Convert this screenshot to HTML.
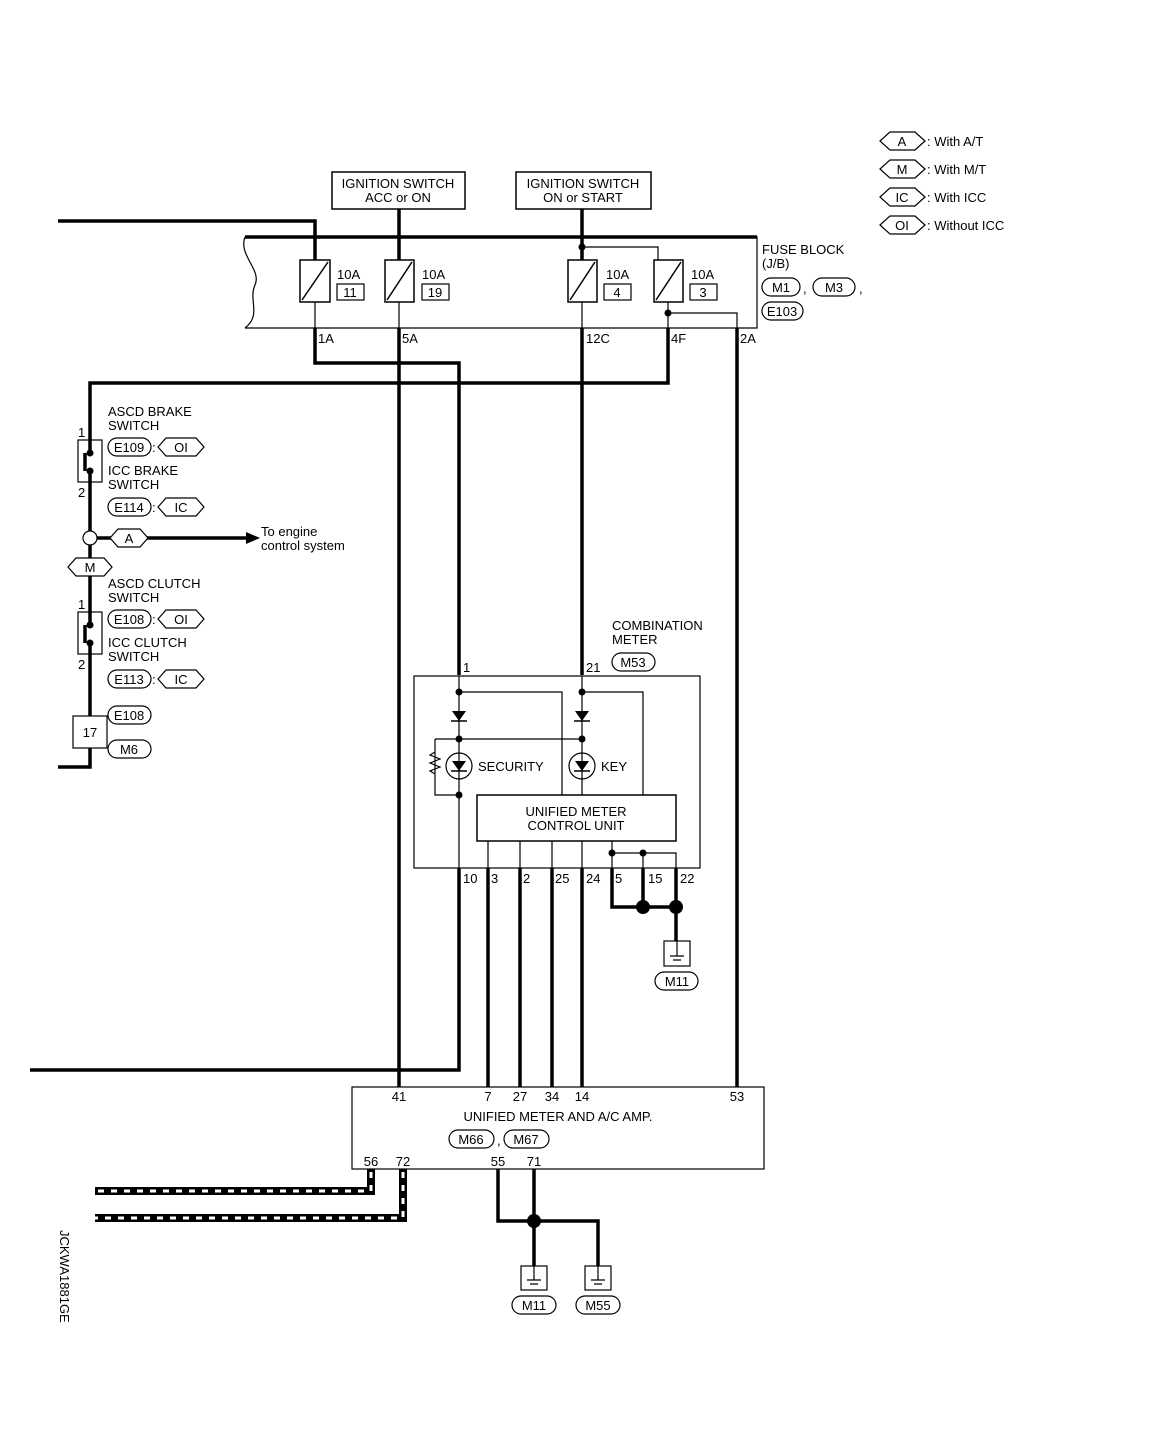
<!DOCTYPE html>
<html><head><meta charset="utf-8"><style>
body{margin:0;background:#fff}
svg{display:block}
text{font-family:"Liberation Sans",sans-serif;font-size:13px;fill:#000}
</style></head><body>
<svg width="1154" height="1456" viewBox="0 0 1154 1456" xmlns="http://www.w3.org/2000/svg">
<g fill="none" stroke="#000">
<rect x="332" y="172" width="133" height="37" stroke-width="1.5"/>
<rect x="516" y="172" width="135" height="37" stroke-width="1.5"/>
<path d="M245 237H757V328H245" stroke-width="1.2"/>
<path d="M245 237 C238 255,262 270,255 285 C248 300,262 315,245 328" stroke-width="1.2"/>
<path d="M245 237H757" stroke-width="3.5"/>
<g stroke-width="3.5">
<path d="M58 221H315V260"/>
<path d="M399 209V260"/>
<path d="M582 209V260"/>
<path d="M315 328V363H459V675"/>
<path d="M399 328V1087"/>
<path d="M582 328V675"/>
<path d="M668 328V383H90V716M90 748V767H58"/>
<path d="M737 328V1087"/>
<path d="M459 868V1070H30"/>
<path d="M488 868V1087M520 868V1087M552 868V1087M582 868V1087"/>
<path d="M612 868V907H676M676 868V941M643 868V907"/>
<path d="M498 1169V1221H598V1266M534 1169V1266"/>
<path d="M90 538H250"/>
</g>
<g stroke-width="1.2">
<path d="M315 302V328M399 302V328M582 302V328M668 302V328"/>
<path d="M582 247H658V260"/>
<path d="M668 313H737V328"/>
</g>
<g stroke-width="1.5">
<rect x="300" y="260" width="30" height="42"/><path d="M302 300L328 262"/>
<rect x="385" y="260" width="29" height="42"/><path d="M387 300L412 262"/>
<rect x="568" y="260" width="29" height="42"/><path d="M570 300L595 262"/>
<rect x="654" y="260" width="29" height="42"/><path d="M656 300L681 262"/>
</g>
<g stroke-width="1.2">
<rect x="337" y="284" width="27" height="16"/><rect x="422" y="284" width="27" height="16"/>
<rect x="604" y="284" width="27" height="16"/><rect x="690" y="284" width="27" height="16"/>
</g>
<rect x="78" y="440" width="24" height="42" stroke-width="1.2" fill="#fff"/>
<rect x="78" y="612" width="24" height="42" stroke-width="1.2" fill="#fff"/>
<rect x="73" y="716" width="34" height="32" stroke-width="1.2"/>
<path d="M90 440V453M90 471V482M90 612V625M90 643V654" stroke-width="3.5"/>
<circle cx="90" cy="538" r="7" fill="#fff" stroke-width="1.2"/>
<rect x="414" y="676" width="286" height="192" stroke-width="1.2"/>
<g stroke-width="1.2">
<path d="M459 676V868M582 676V841"/>
<path d="M459 692H562V795M582 692H643V795"/>
<path d="M435 739H582M435 739V795H459"/>
<path d="M488 841V868M520 841V868M552 841V868M582 841V868M612 841V868"/>
<path d="M612 853H676V868M643 853V868"/>
</g>
<path d="M435 752l-5 3l10 4l-10 4l10 4l-10 4l5 3" stroke-width="1.2"/>
<circle cx="459" cy="766" r="13" stroke-width="1.2"/><circle cx="582" cy="766" r="13" stroke-width="1.2"/>
<rect x="477" y="795" width="199" height="46" stroke-width="1.5" fill="#fff"/>
<rect x="664" y="941" width="26" height="25" stroke-width="1.2"/>
<rect x="521" y="1266" width="26" height="24" stroke-width="1.2"/>
<rect x="585" y="1266" width="26" height="24" stroke-width="1.2"/>
<path d="M670 956h14M673 960h8M527 1280h14M530 1284h8M591 1280h14M594 1284h8M677 941V956M534 1266V1280M598 1266V1280" stroke-width="1.2"/>
<rect x="352" y="1087" width="412" height="82" stroke-width="1.2"/>
<path d="M371 1169V1191H95M403 1169V1218H95" stroke-width="8"/>
<path d="M371 1172V1191H95M403 1172V1218H95" stroke="#fff" stroke-width="3" stroke-dasharray="6 7"/>
</g>
<g fill="#000">
<circle cx="582" cy="247" r="3.5"/><circle cx="668" cy="313" r="3.5"/>
<circle cx="459" cy="692" r="3.5"/><circle cx="582" cy="692" r="3.5"/>
<circle cx="459" cy="739" r="3.5"/><circle cx="582" cy="739" r="3.5"/><circle cx="459" cy="795" r="3.5"/>
<circle cx="612" cy="853" r="3.5"/><circle cx="643" cy="853" r="3.5"/>
<circle cx="643" cy="907" r="7"/><circle cx="676" cy="907" r="7"/>
<circle cx="534" cy="1221" r="7"/>
<path d="M246 532L260 538L246 544Z"/>
<path d="M452 711h14l-7 10zM575 711h14l-7 10zM452 761h14l-7 10zM575 761h14l-7 10z"/>
<path d="M451 721h16M574 721h16M451 771h16M574 771h16" stroke="#000" stroke-width="1.5"/>
<circle cx="90" cy="453" r="3.5"/><circle cx="90" cy="471" r="3.5"/>
<circle cx="90" cy="625" r="3.5"/><circle cx="90" cy="643" r="3.5"/>
<path d="M85 453V471M85 625V643" stroke="#000" stroke-width="3.5"/>
</g>
<g fill="#fff" stroke="#000" stroke-width="1.2">
<polygon points="880,141 890,132 915,132 925,141 915,150 890,150"/>
<polygon points="880,169 890,160 915,160 925,169 915,178 890,178"/>
<polygon points="880,197 890,188 915,188 925,197 915,206 890,206"/>
<polygon points="880,225 890,216 915,216 925,225 915,234 890,234"/>
<polygon points="158,447 166,438 196,438 204,447 196,456 166,456"/>
<polygon points="158,507 166,498 196,498 204,507 196,516 166,516"/>
<polygon points="158,619 166,610 196,610 204,619 196,628 166,628"/>
<polygon points="158,679 166,670 196,670 204,679 196,688 166,688"/>
<polygon points="110,538 118,529 140,529 148,538 140,547 118,547"/>
<polygon points="68,567 76,558 104,558 112,567 104,576 76,576"/>
<rect x="762" y="278" width="38" height="18" rx="9"/>
<rect x="813" y="278" width="42" height="18" rx="9"/>
<rect x="762" y="302" width="41" height="18" rx="9"/>
<rect x="108" y="438" width="43" height="18" rx="9"/>
<rect x="108" y="498" width="43" height="18" rx="9"/>
<rect x="108" y="610" width="43" height="18" rx="9"/>
<rect x="108" y="670" width="43" height="18" rx="9"/>
<rect x="108" y="706" width="43" height="18" rx="9"/>
<rect x="108" y="740" width="43" height="18" rx="9"/>
<rect x="612" y="653" width="43" height="18" rx="9"/>
<rect x="655" y="972" width="43" height="18" rx="9"/>
<rect x="449" y="1130" width="45" height="18" rx="9"/>
<rect x="504" y="1130" width="45" height="18" rx="9"/>
<rect x="512" y="1296" width="44" height="18" rx="9"/>
<rect x="576" y="1296" width="44" height="18" rx="9"/>
</g>
<g>
<text x="398" y="188" text-anchor="middle">IGNITION SWITCH</text><text x="398" y="202" text-anchor="middle">ACC or ON</text>
<text x="583" y="188" text-anchor="middle">IGNITION SWITCH</text><text x="583" y="202" text-anchor="middle">ON or START</text>
<text x="337" y="279">10A</text><text x="350" y="297" text-anchor="middle">11</text>
<text x="422" y="279">10A</text><text x="435" y="297" text-anchor="middle">19</text>
<text x="606" y="279">10A</text><text x="617" y="297" text-anchor="middle">4</text>
<text x="691" y="279">10A</text><text x="703" y="297" text-anchor="middle">3</text>
<text x="762" y="254">FUSE BLOCK</text><text x="762" y="268">(J/B)</text>
<text x="781" y="292" text-anchor="middle">M1</text><text x="803" y="293">,</text>
<text x="834" y="292" text-anchor="middle">M3</text><text x="859" y="293">,</text>
<text x="782" y="316" text-anchor="middle">E103</text>
<text x="318" y="343">1A</text><text x="402" y="343">5A</text><text x="586" y="343">12C</text><text x="671" y="343">4F</text><text x="740" y="343">2A</text>
<text x="902" y="146" text-anchor="middle">A</text><text x="902" y="174" text-anchor="middle">M</text>
<text x="902" y="202" text-anchor="middle">IC</text><text x="902" y="230" text-anchor="middle">OI</text>
<text x="927" y="146">: With A/T</text><text x="927" y="174">: With M/T</text>
<text x="927" y="202">: With ICC</text><text x="927" y="230">: Without ICC</text>
<text x="108" y="416">ASCD BRAKE</text><text x="108" y="430">SWITCH</text>
<text x="78" y="437">1</text><text x="78" y="497">2</text>
<text x="129" y="452" text-anchor="middle">E109</text><text x="152" y="452">:</text><text x="181" y="452" text-anchor="middle">OI</text>
<text x="108" y="475">ICC BRAKE</text><text x="108" y="489">SWITCH</text>
<text x="129" y="512" text-anchor="middle">E114</text><text x="152" y="512">:</text><text x="181" y="512" text-anchor="middle">IC</text>
<text x="129" y="543" text-anchor="middle">A</text><text x="90" y="572" text-anchor="middle">M</text>
<text x="261" y="536">To engine</text><text x="261" y="550">control system</text>
<text x="108" y="588">ASCD CLUTCH</text><text x="108" y="602">SWITCH</text>
<text x="78" y="609">1</text><text x="78" y="669">2</text>
<text x="129" y="624" text-anchor="middle">E108</text><text x="152" y="624">:</text><text x="181" y="624" text-anchor="middle">OI</text>
<text x="108" y="647">ICC CLUTCH</text><text x="108" y="661">SWITCH</text>
<text x="129" y="684" text-anchor="middle">E113</text><text x="152" y="684">:</text><text x="181" y="684" text-anchor="middle">IC</text>
<text x="129" y="720" text-anchor="middle">E108</text><text x="90" y="737" text-anchor="middle">17</text><text x="129" y="754" text-anchor="middle">M6</text>
<text x="612" y="630">COMBINATION</text><text x="612" y="644">METER</text>
<text x="633" y="667" text-anchor="middle">M53</text>
<text x="463" y="672">1</text><text x="586" y="672">21</text>
<text x="478" y="771">SECURITY</text><text x="601" y="771">KEY</text>
<text x="576" y="816" text-anchor="middle">UNIFIED METER</text><text x="576" y="830" text-anchor="middle">CONTROL UNIT</text>
<text x="463" y="883">10</text><text x="491" y="883">3</text><text x="523" y="883">2</text><text x="555" y="883">25</text>
<text x="586" y="883">24</text><text x="615" y="883">5</text><text x="648" y="883">15</text><text x="680" y="883">22</text>
<text x="677" y="986" text-anchor="middle">M11</text>
<text x="399" y="1101" text-anchor="middle">41</text><text x="488" y="1101" text-anchor="middle">7</text>
<text x="520" y="1101" text-anchor="middle">27</text><text x="552" y="1101" text-anchor="middle">34</text>
<text x="582" y="1101" text-anchor="middle">14</text><text x="737" y="1101" text-anchor="middle">53</text>
<text x="558" y="1121" text-anchor="middle">UNIFIED METER AND A/C AMP.</text>
<text x="471" y="1144" text-anchor="middle">M66</text><text x="497" y="1145">,</text><text x="526" y="1144" text-anchor="middle">M67</text>
<text x="371" y="1166" text-anchor="middle">56</text><text x="403" y="1166" text-anchor="middle">72</text>
<text x="498" y="1166" text-anchor="middle">55</text><text x="534" y="1166" text-anchor="middle">71</text>
<text x="534" y="1310" text-anchor="middle">M11</text><text x="598" y="1310" text-anchor="middle">M55</text>
<text x="0" y="0" transform="translate(60,1230) rotate(90)" font-size="12">JCKWA1881GE</text>
</g>
</svg>
</body></html>
